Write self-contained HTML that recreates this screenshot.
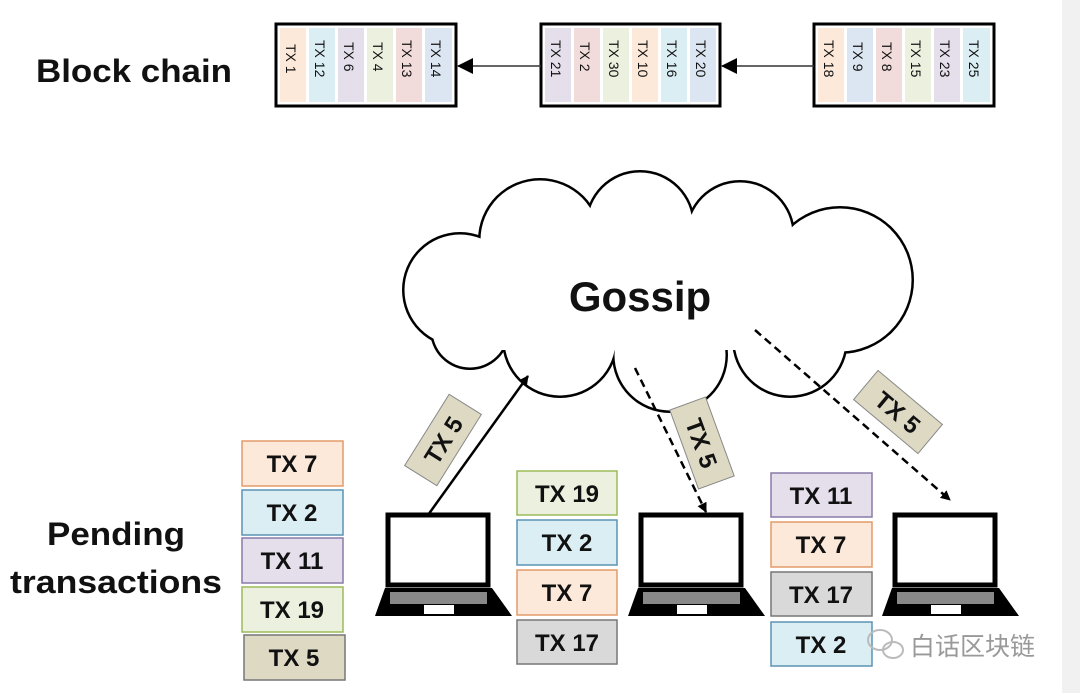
<!DOCTYPE html>
<html><head><meta charset="utf-8"><style>
html,body{margin:0;padding:0;background:#fff}
svg{display:block}
text{font-family:"Liberation Sans","Noto Sans CJK SC",sans-serif}
</style></head><body>
<svg width="1080" height="693" viewBox="0 0 1080 693" xmlns="http://www.w3.org/2000/svg">
<rect x="1062" y="0" width="18" height="693" fill="#f1f1f1"/>
<text x="36" y="82" font-size="32" font-weight="bold" fill="#111" textLength="196" lengthAdjust="spacingAndGlyphs">Block chain</text>
<defs>
<marker id="ah" markerWidth="10" markerHeight="10" refX="9" refY="5" orient="auto" markerUnits="userSpaceOnUse"><path d="M0,0 L10,5 L0,10z" fill="#000"/></marker>
<marker id="ab" markerWidth="16" markerHeight="16" refX="15" refY="8" orient="auto" markerUnits="userSpaceOnUse"><path d="M0,0 L16,8 L0,16z" fill="#000"/></marker>
</defs>
<g font-size="14" fill="#111">
<rect x="276" y="24" width="180" height="82" fill="#fff" stroke="#000" stroke-width="3"/>
<rect x="280" y="28" width="26" height="74" fill="#fde9d9"/><text transform="translate(286,44) rotate(90)">TX 1</text>
<rect x="309" y="28" width="26" height="74" fill="#dbeef4"/><text transform="translate(315,40) rotate(90)">TX 12</text>
<rect x="338" y="28" width="26" height="74" fill="#e5dfec"/><text transform="translate(344,42) rotate(90)">TX 6</text>
<rect x="367" y="28" width="26" height="74" fill="#ebf1de"/><text transform="translate(373,42) rotate(90)">TX 4</text>
<rect x="396" y="28" width="26" height="74" fill="#f2dcdb"/><text transform="translate(402,40) rotate(90)">TX 13</text>
<rect x="425" y="28" width="27" height="74" fill="#dce6f2"/><text transform="translate(431,40) rotate(90)">TX 14</text>
<rect x="541" y="24" width="179" height="82" fill="#fff" stroke="#000" stroke-width="3"/>
<rect x="545" y="28" width="26" height="74" fill="#e5dfec"/><text transform="translate(551,40) rotate(90)">TX 21</text>
<rect x="574" y="28" width="26" height="74" fill="#f2dcdb"/><text transform="translate(580,42) rotate(90)">TX 2</text>
<rect x="603" y="28" width="26" height="74" fill="#ebf1de"/><text transform="translate(609,40) rotate(90)">TX 30</text>
<rect x="632" y="28" width="26" height="74" fill="#fde9d9"/><text transform="translate(638,40) rotate(90)">TX 10</text>
<rect x="661" y="28" width="26" height="74" fill="#dbeef4"/><text transform="translate(667,40) rotate(90)">TX 16</text>
<rect x="690" y="28" width="26" height="74" fill="#dce6f2"/><text transform="translate(696,40) rotate(90)">TX 20</text>
<rect x="814" y="24" width="180" height="82" fill="#fff" stroke="#000" stroke-width="3"/>
<rect x="818" y="28" width="26" height="74" fill="#fde9d9"/><text transform="translate(824,40) rotate(90)">TX 18</text>
<rect x="847" y="28" width="26" height="74" fill="#dce6f2"/><text transform="translate(853,42) rotate(90)">TX 9</text>
<rect x="876" y="28" width="26" height="74" fill="#f2dcdb"/><text transform="translate(882,42) rotate(90)">TX 8</text>
<rect x="905" y="28" width="26" height="74" fill="#ebf1de"/><text transform="translate(911,40) rotate(90)">TX 15</text>
<rect x="934" y="28" width="26" height="74" fill="#e5dfec"/><text transform="translate(940,40) rotate(90)">TX 23</text>
<rect x="963" y="28" width="27" height="74" fill="#dbeef4"/><text transform="translate(969,40) rotate(90)">TX 25</text>
</g>
<line x1="541" y1="66" x2="458" y2="66" stroke="#333" stroke-width="1.5" marker-end="url(#ab)"/>
<line x1="814" y1="66" x2="722" y2="66" stroke="#333" stroke-width="1.5" marker-end="url(#ab)"/>

<g fill="#000">
<circle cx="460" cy="290" r="58"/><circle cx="540" cy="240" r="62"/><circle cx="640" cy="225" r="55"/>
<circle cx="740" cy="235" r="55"/><circle cx="840" cy="280" r="74"/><circle cx="790" cy="340" r="58"/>
<circle cx="670" cy="355" r="58"/><circle cx="560" cy="340" r="58"/><circle cx="470" cy="330" r="40"/>
</g>
<g fill="#fff">
<circle cx="460" cy="290" r="55.5"/><circle cx="540" cy="240" r="59.5"/><circle cx="640" cy="225" r="52.5"/>
<circle cx="740" cy="235" r="52.5"/><circle cx="840" cy="280" r="71.5"/><circle cx="790" cy="340" r="55.5"/>
<circle cx="670" cy="355" r="55.5"/><circle cx="560" cy="340" r="55.5"/><circle cx="470" cy="330" r="37.5"/>
<rect x="480" y="240" width="350" height="110"/>
</g>
<text x="640" y="311" font-size="42" font-weight="bold" text-anchor="middle" fill="#111">Gossip</text>

<line x1="428" y1="515" x2="528" y2="376" stroke="#000" stroke-width="2.5" marker-end="url(#ah)"/>
<line x1="635" y1="368" x2="706" y2="512" stroke="#000" stroke-width="2.5" stroke-dasharray="8,5" marker-end="url(#ah)"/>
<line x1="755" y1="330" x2="950" y2="500" stroke="#000" stroke-width="2.5" stroke-dasharray="8,5" marker-end="url(#ah)"/>
<g font-size="24" font-weight="bold" fill="#111" text-anchor="middle">
<g transform="translate(443,440) rotate(-58)"><rect x="-42" y="-19" width="84" height="38" fill="#ddd9c3" stroke="#888"/><text y="9">TX 5</text></g>
<g transform="translate(702,443) rotate(70)"><rect x="-42" y="-19" width="84" height="38" fill="#ddd9c3" stroke="#888"/><text y="9">TX 5</text></g>
<g transform="translate(898,412) rotate(40)"><rect x="-42" y="-19" width="84" height="38" fill="#ddd9c3" stroke="#888"/><text y="9">TX 5</text></g>
</g>

<g id="lap">
<rect x="388" y="515" width="100" height="70" fill="#fff" stroke="#000" stroke-width="5"/>
<path d="M385,588 L492,588 L512,616 L375,616 Z" fill="#000"/>
<rect x="390" y="592" width="97" height="12" fill="#888"/>
<rect x="424" y="605" width="30" height="9" fill="#fff"/>
</g>
<use href="#lap" x="253"/>
<use href="#lap" x="507"/>

<text x="47" y="545" font-size="32" font-weight="bold" fill="#111" textLength="138" lengthAdjust="spacingAndGlyphs">Pending</text>
<text x="10" y="593" font-size="32" font-weight="bold" fill="#111" textLength="212" lengthAdjust="spacingAndGlyphs">transactions</text>
<g font-size="24" font-weight="bold" fill="#111" text-anchor="middle" stroke-width="1.5">
<rect x="242" y="441" width="101" height="45" fill="#fde9d9" stroke="#e39b6a"/><text x="292" y="472">TX 7</text>
<rect x="242" y="490" width="101" height="45" fill="#dbeef4" stroke="#5b93b3"/><text x="292" y="521">TX 2</text>
<rect x="242" y="538" width="101" height="45" fill="#e5dfec" stroke="#8a7aa8"/><text x="292" y="569">TX 11</text>
<rect x="242" y="587" width="101" height="45" fill="#ebf1de" stroke="#9bbb59"/><text x="292" y="618">TX 19</text>
<rect x="244" y="635" width="101" height="45" fill="#ddd9c3" stroke="#777"/><text x="294" y="666">TX 5</text>

<rect x="517" y="471" width="100" height="44" fill="#ebf1de" stroke="#9bbb59"/><text x="567" y="502">TX 19</text>
<rect x="517" y="520" width="100" height="45" fill="#dbeef4" stroke="#5b93b3"/><text x="567" y="551">TX 2</text>
<rect x="517" y="570" width="100" height="45" fill="#fde9d9" stroke="#e39b6a"/><text x="567" y="601">TX 7</text>
<rect x="517" y="620" width="100" height="44" fill="#d9d9d9" stroke="#777"/><text x="567" y="651">TX 17</text>

<rect x="771" y="473" width="101" height="44" fill="#e5dfec" stroke="#8a7aa8"/><text x="821" y="504">TX 11</text>
<rect x="771" y="522" width="101" height="45" fill="#fde9d9" stroke="#e39b6a"/><text x="821" y="553">TX 7</text>
<rect x="771" y="572" width="101" height="44" fill="#d9d9d9" stroke="#777"/><text x="821" y="603">TX 17</text>
<rect x="771" y="622" width="101" height="44" fill="#dbeef4" stroke="#5b93b3"/><text x="821" y="653">TX 2</text>
</g>
<g fill="none" stroke="#bbb" stroke-width="2"><ellipse cx="880" cy="640" rx="12" ry="10"/><ellipse cx="893" cy="650" rx="10" ry="8"/></g>
<text x="910" y="655" font-size="25" fill="#999" font-family="'Noto Sans CJK SC',sans-serif">白话区块链</text>
</svg>
</body></html>
